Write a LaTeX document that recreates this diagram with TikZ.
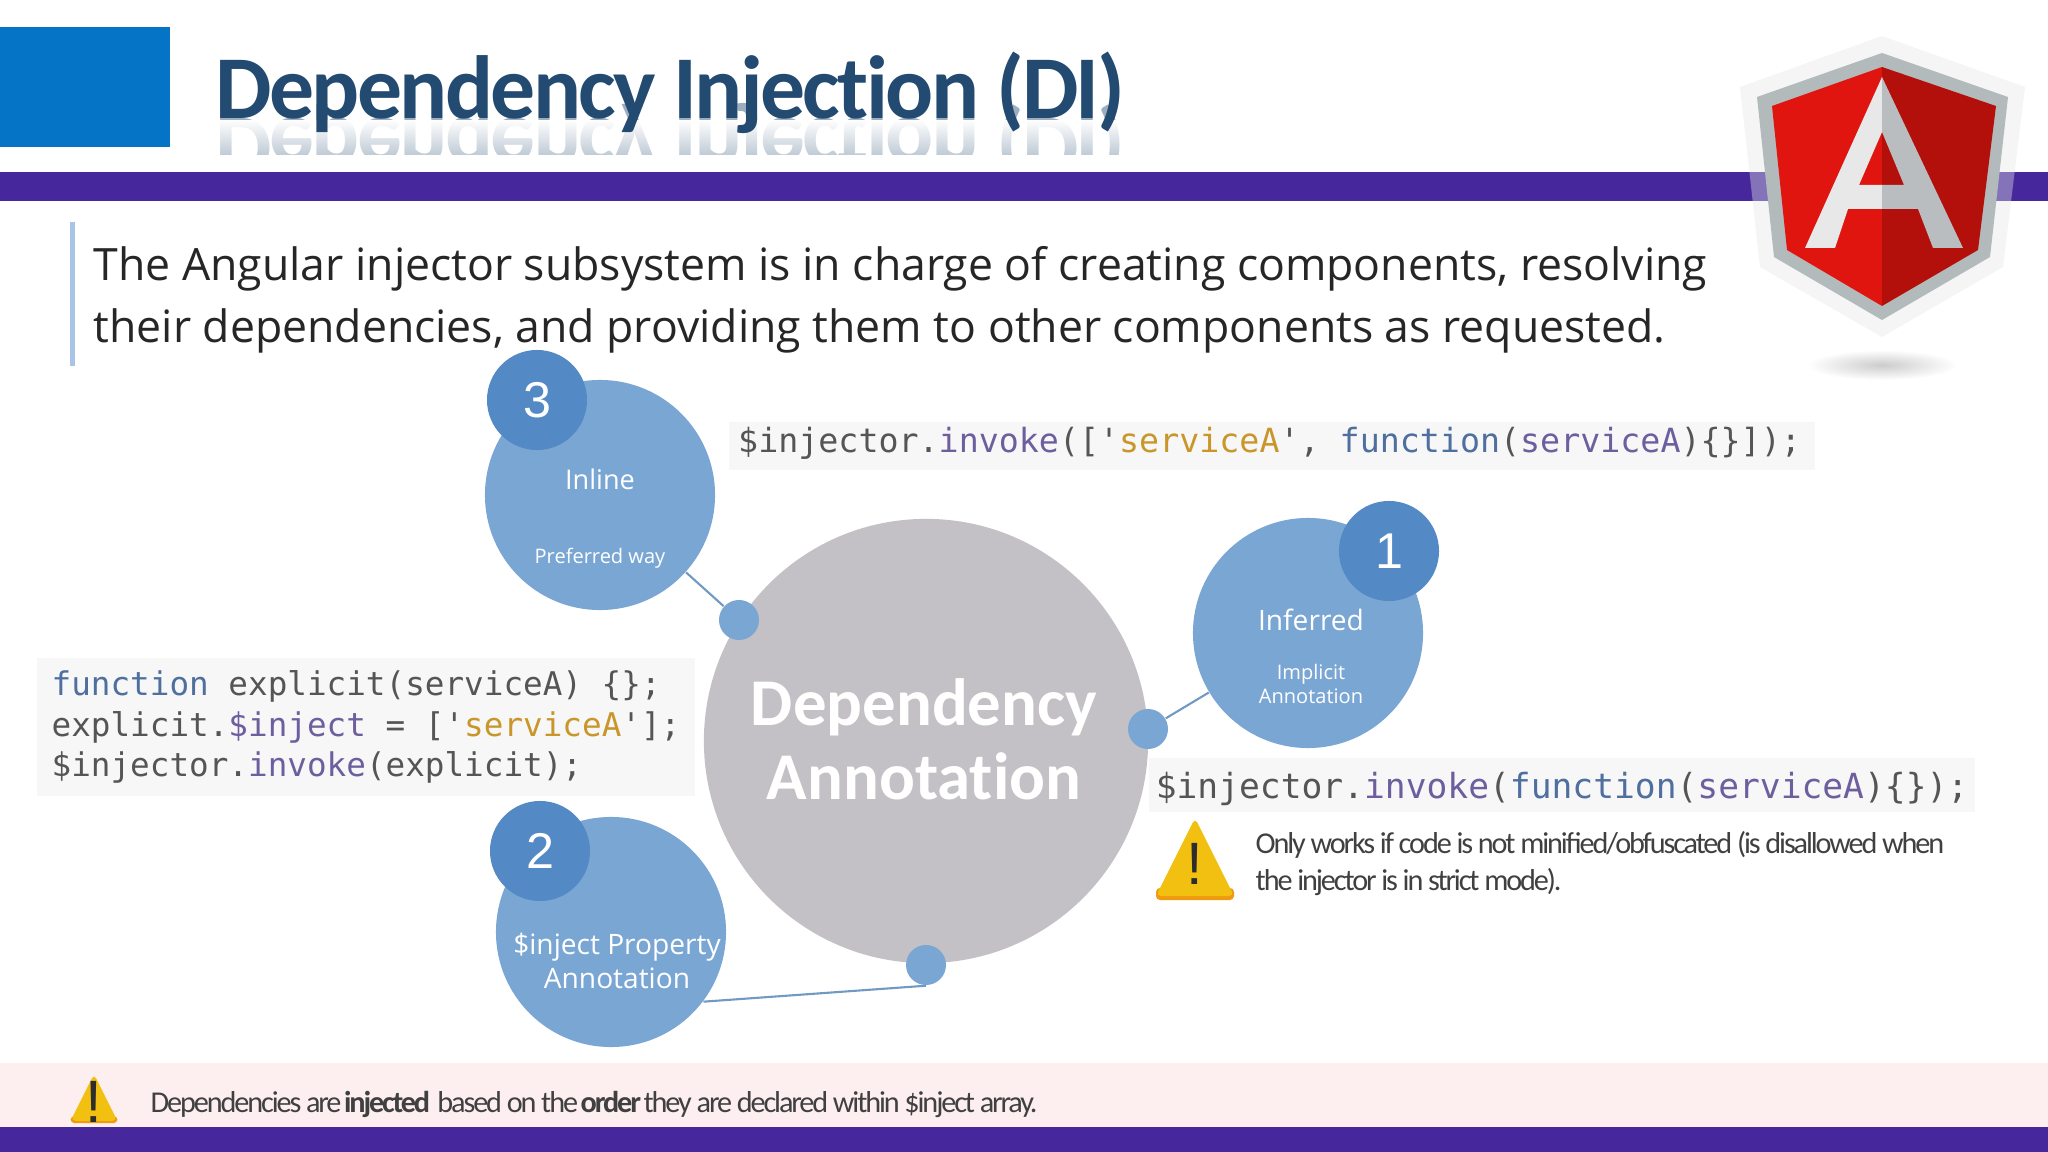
\documentclass[tikz,border=0pt]{standalone}
\usepackage{fontspec}
\usepackage{xcolor}
\usetikzlibrary{shapes.geometric, positioning, fadings}
\setmainfont{Open Sans}
\newfontfamily\calfont[LetterSpace=-7]{Carlito}
\newfontfamily\headfont[LetterSpace=-3,Ligatures=NoCommon]{Carlito}
\newfontfamily\hubfont[Ligatures=NoCommon]{Carlito}
\newfontfamily\codefont{DejaVu Sans Mono}
\newfontfamily\numfont{Liberation Sans}
\definecolor{barpurple}{HTML}{46289C}
\definecolor{tabblue}{HTML}{0574C6}
\definecolor{titleblue}{HTML}{234A70}
\definecolor{quotebar}{HTML}{A9C4E4}
\definecolor{bubble}{HTML}{7AA6D4}
\definecolor{bubbledark}{HTML}{5389C4}
\definecolor{hubgray}{HTML}{C3C1C5}
\definecolor{notepink}{HTML}{FDEEEF}
\definecolor{codebg}{HTML}{F7F7F8}
\definecolor{codetext}{HTML}{555555}
\definecolor{codekey}{HTML}{4F6F9F}
\definecolor{codecall}{HTML}{6D5F9E}
\definecolor{codestr}{HTML}{C9962A}
\definecolor{warnyellow}{HTML}{F2C010}
\definecolor{warnedge}{HTML}{F09A10}
\definecolor{noteText}{HTML}{404040}
\definecolor{shieldgray}{HTML}{B3BABC}
\definecolor{shieldred}{HTML}{E0150F}
\definecolor{shielddark}{HTML}{B3100C}
\definecolor{letterlight}{HTML}{E8E8E8}
\definecolor{letterdark}{HTML}{B9BDBF}
\newcommand{\ckey}[1]{\textcolor{codekey}{#1}}
\newcommand{\ccall}[1]{\textcolor{codecall}{#1}}
\newcommand{\cstr}[1]{\textcolor{codestr}{#1}}
\tikzstyle{band} = [draw=none, fill=barpurple, minimum width=20.48cm, inner sep=0pt]
\tikzstyle{link} = [draw=bubble!92!black, line width=0.6pt]
\tikzstyle{topic} = [circle, fill=bubble, minimum size=2.3cm, inner sep=0pt]
\tikzstyle{badge} = [circle, fill=bubbledark, minimum size=1cm, inner sep=0pt, text=white, font=\numfont\fontsize{14.3}{16}\selectfont]
\tikzstyle{dot} = [circle, fill=bubble, minimum size=0.4cm, inner sep=0pt]
\tikzstyle{topictext} = [text=white, align=center, inner sep=0pt, font=\fontsize{8.0}{9.8}\selectfont]
\tikzstyle{subtext} = [text=white, align=center, inner sep=0pt, font=\fontsize{5.7}{7}\selectfont]
\tikzstyle{codebox} = [fill=codebg, inner sep=0pt, text=codetext, align=left]
\tikzstyle{notetext} = [text=noteText, inner sep=0pt, align=left, anchor=base west]
\newcommand{\warnsign}[4]{
\begin{scope}[shift={(#2,#3)}, scale=#4]
\fill [warnedge, rounded corners=0.04cm] (-39,82) -- (-39,70) -- (39,70) -- (39,82) -- cycle;
\fill [warnyellow, rounded corners=0.05cm] (0,0) -- (39,78) -- (-39,78) -- cycle;
\node (#1) [text=noteText!70!black, inner sep=0pt, font=\numfont\fontsize{17}{17}\selectfont] at (0,46) {!};
\end{scope}}

\begin{document}
\begin{tikzpicture}[x=0.01cm, y=-0.01cm]
\useasboundingbox (0,0) rectangle (2048,1152);

% Header
\node (tab) [fill=tabblue, minimum width=1.7cm, minimum height=1.2cm, inner sep=0pt] at (85,87) {};
\node (title_mirror) [anchor=base west, inner sep=0pt, transform shape, yscale=-1, text=titleblue!45!white, font=\headfont\bfseries\fontsize{25.5}{30}\selectfont] at (215,119) {Dependency Injection (DI)};
\fill [white, path fading=south] (205,120) rectangle (1135,158);
\fill [white, opacity=0.3] (205,120) rectangle (1135,158);
\fill [white] (205,155) rectangle (1135,190);
\node (header_band) [band, minimum height=0.29cm] at (1024,186.5) {};
\node (title) [anchor=base west, inner sep=0pt, text=titleblue, font=\headfont\bfseries\fontsize{25.5}{30}\selectfont] at (215,119) {Dependency Injection (DI)};

% Logo
\fill [fill=gray!20, opacity=0.4] (1882,36) -- (2025,87) -- (2003,267) -- (1882,337) -- (1760,267) -- (1740,87) -- cycle;
\fill [fill=shieldgray] (1882,53) -- (2008,97) -- (1990,257) -- (1882,320) -- (1774,257) -- (1757,97) -- cycle;
\fill [fill=shieldred] (1882,67) -- (1882,306) -- (1787,250) -- (1772,106) -- cycle;
\fill [fill=shielddark] (1882,67) -- (1996,106) -- (1978,250) -- (1882,306) -- cycle;
\fill [fill=letterlight] (1882,77) -- (1882,132) -- (1859,185) -- (1882,185) -- (1882,209) -- (1848,209) -- (1835,248) -- (1805,248) -- cycle;
\fill [fill=letterdark] (1882,77) -- (1963,248) -- (1933,248) -- (1918,209) -- (1882,209) -- (1882,185) -- (1904,185) -- (1882,132) -- cycle;
\shade [inner color=gray!40, outer color=white] (1882,365) ellipse [x radius=75, y radius=15];

% Lead text
\node (quote_bar) [fill=quotebar, minimum width=0.05cm, minimum height=1.44cm, inner sep=0pt] at (72.5,294) {};
\node (lead) [inner sep=0pt, anchor=west, align=left, text=black!85, font=\fontsize{12.67}{17.6}\selectfont] at (93,300) {The Angular injector subsystem is in charge of creating components, resolving\\their dependencies, and providing them to other components as requested.};

% Annotation circles
\node (hub) [circle, fill=hubgray, minimum size=4.44cm, inner sep=0pt] at (926,741) {};
\node (hub_text) [text=white, align=center, inner sep=0pt, font=\hubfont\bfseries\fontsize{19}{21}\selectfont] at (924,739) {Dependency\\Annotation};
\node (inline) [topic] at (600,495) {};
\node (inferred) [topic] at (1308,633) {};
\node (property) [topic] at (611,932) {};
\node (dot_inline) [dot] at (739,620) {};
\node (dot_inferred) [dot] at (1148,729) {};
\node (dot_property) [dot] at (926,965) {};
\node (badge_inline) [badge] at (537,400) {3};
\node (badge_inferred) [badge] at (1389,551) {1};
\node (badge_property) [badge] at (540,851) {2};

% Circle labels
\node (inline_name) [topictext, font=\fontsize{7.7}{9}\selectfont] at (600,479) {Inline};
\node (inline_note) [subtext] at (600,558) {Preferred way};
\node (inferred_name) [topictext] at (1311,620) {Inferred};
\node (inferred_note) [subtext] at (1311,684) {Implicit\\Annotation};
\node (property_name) [topictext] at (617,961) {\$inject Property\\Annotation};

% Connections
\draw [link] (inline) -- (dot_inline);
\draw [link] (inferred) -- (dot_inferred);
\draw [link] (property.-37) -- (dot_property.south);

% Code samples
\node (code_inline) [codebox, minimum width=10.86cm, minimum height=0.48cm, text height=6pt, text depth=2.4pt, font=\codefont\fontsize{9.47}{11}\selectfont] at (1272,446) {\$injector.\ccall{invoke}(['\cstr{serviceA}', \ckey{function}(\ccall{serviceA})\{\}]);\kern1.4pt};
\node (code_inferred) [codebox, minimum width=8.25cm, minimum height=0.54cm, text height=9pt, text depth=1.6pt, font=\codefont\fontsize{9.84}{11}\selectfont] at (1562,785) {\$injector.\ccall{invoke}(\ckey{function}(\ccall{serviceA})\{\});};
\node (code_property) [codebox, minimum width=6.58cm, minimum height=1.37cm, font=\codefont\fontsize{9.28}{11.55}\selectfont] at (366,727) {\ckey{function} explicit(serviceA) \{\};\\explicit.\ccall{\$inject} = ['\cstr{serviceA}'];\\\$injector.\ccall{invoke}(explicit);};

% Warning note
\warnsign{warn_mark}{1195}{818}{1}
\node (warn_text) [notetext, font=\calfont\fontsize{8.6}{10.3}\selectfont] at (1255,890) {Only works if code is not minified/obfuscated (is disallowed when\\the injector is in strict mode).};

% Footer
\node (footer_note) [fill=notepink, minimum width=20.48cm, minimum height=0.64cm, inner sep=0pt] at (1024,1095) {};
\node (footer_band) [band, minimum height=0.25cm] at (1024,1139.5) {};
\warnsign{footer_mark}{94}{1074}{0.6}
\node (footer_text) [notetext, font=\calfont\fontsize{8.6}{10.3}\selectfont] at (150,1112) {Dependencies are \textbf{injected} \ based on the \textbf{order} they are declared within \$inject array.};

\end{tikzpicture}
\end{document}
